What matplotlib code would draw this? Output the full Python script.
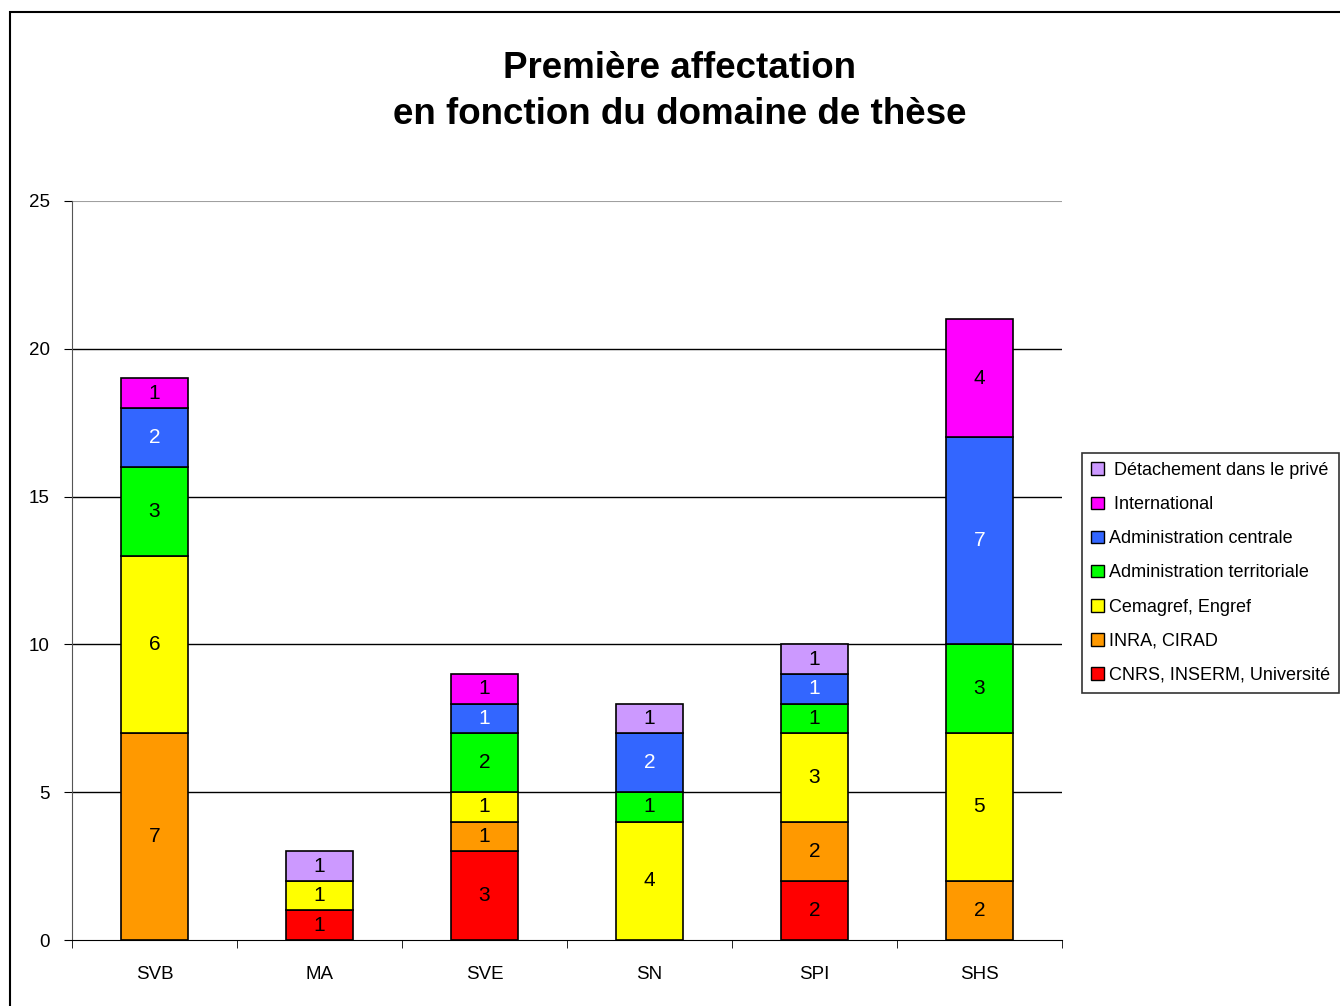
import numpy as np
import matplotlib.pyplot as plt
from matplotlib.patches import Rectangle

plt.rcParams["font.family"] = ["Liberation Sans", "DejaVu Sans"]

# domaines de thèse
domaines = ["SVB", "MA", "SVE", "SN", "SPI", "SHS"]

# première affectation, du bas vers le haut de la pile
cnrs = [0, 1, 3, 0, 2, 0]
inra = [7, 0, 1, 0, 2, 2]
cemagref = [6, 1, 1, 4, 3, 5]
admin_terr = [3, 0, 2, 1, 1, 3]
admin_centrale = [2, 0, 1, 2, 1, 7]
international = [1, 0, 1, 0, 0, 4]
detachement = [0, 1, 0, 1, 1, 0]

series = [
    ("CNRS, INSERM, Université", cnrs, "#FF0000", "black"),
    ("INRA, CIRAD", inra, "#FF9900", "black"),
    ("Cemagref, Engref", cemagref, "#FFFF00", "black"),
    ("Administration territoriale", admin_terr, "#00FF00", "black"),
    ("Administration centrale", admin_centrale, "#3366FF", "white"),
    (" International", international, "#FF00FF", "black"),
    (" Détachement dans le privé", detachement, "#CC99FF", "black"),
]

fig = plt.figure(figsize=(13.4, 10.06), dpi=100)
ax = fig.add_axes([0.0537, 0.0656, 0.7388, 0.7346])

# cadre du graphique
fig.patches.append(Rectangle((10 / 1340, -0.1), 1.2, 1 - 12 / 1006 + 0.1,
                             transform=fig.transFigure, fill=False,
                             edgecolor="black", linewidth=1.5))

x = np.arange(len(domaines))
bas = np.zeros(len(domaines))
handles = []
for nom, vals, couleur, txt in series:
    vals = np.array(vals, dtype=float)
    masque = vals > 0
    ax.bar(x[masque], vals[masque], bottom=bas[masque], width=0.41,
           color=couleur, edgecolor="black", linewidth=1.2, zorder=3)
    for xi, b, v in zip(x[masque], bas[masque], vals[masque]):
        ax.text(xi, b + v / 2, f"{int(v)}", ha="center", va="center",
                fontsize=15, color=txt, zorder=4)
    handles.append(Rectangle((0, 0), 1, 1, facecolor=couleur,
                             edgecolor="black", linewidth=1))
    bas += vals

ax.set_xlim(-0.5, len(domaines) - 0.5)
ax.set_ylim(0, 25)
ax.set_yticks([0, 5, 10, 15, 20, 25])
ax.set_xticks(x)
ax.set_xticklabels(domaines)
ax.set_xticks(np.arange(-0.5, len(domaines)), minor=True)
ax.tick_params(axis="x", which="major", length=0, labelsize=13.5, pad=19)
ax.tick_params(axis="x", which="minor", length=6, direction="out")
ax.tick_params(axis="y", length=6, direction="out", labelsize=13.5, pad=10)

for y in [5, 10, 15, 20]:
    ax.axhline(y, color="black", linewidth=1, zorder=1)
ax.axhline(25, color="#A0A0A0", linewidth=1.5, zorder=1)

ax.spines["right"].set_visible(False)
ax.spines["top"].set_visible(False)
ax.spines["left"].set_color("#555555")
ax.spines["bottom"].set_color("black")

fig.text(0.507, 1 - 68 / 1006, "Première affectation", ha="center",
         va="center", fontsize=26.5, fontweight="bold")
fig.text(0.507, 1 - 115 / 1006, "en fonction du domaine de thèse",
         ha="center", va="center", fontsize=26.5, fontweight="bold")

leg = fig.legend(handles[::-1], [s[0] for s in series][::-1],
                 loc="upper left", bbox_to_anchor=(1082 / 1340, 1 - 453 / 1006),
                 fontsize=13, frameon=True, fancybox=False,
                 edgecolor="black", handlelength=0.7, handleheight=0.7,
                 handletextpad=0.3, labelspacing=0.95, borderpad=0.5,
                 borderaxespad=0)
leg.get_frame().set_linewidth(1.2)

fig.savefig("out.png", dpi=100)
